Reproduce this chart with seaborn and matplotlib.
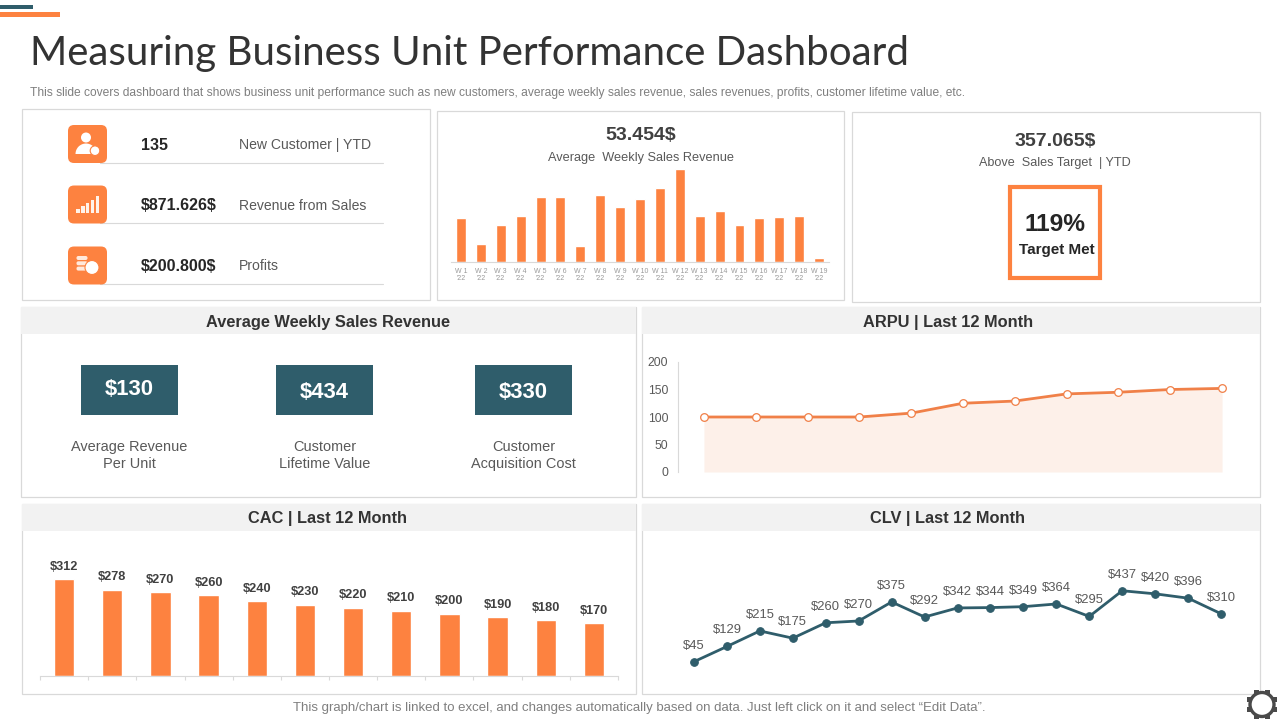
import numpy as np
import pandas as pd
import matplotlib
matplotlib.use("Agg")
import matplotlib.pyplot as plt
from matplotlib.patches import Rectangle, FancyBboxPatch, Circle, Wedge
import seaborn as sns

# ---- data ----
week_labels = [f"W {i}\n'22" for i in range(1, 20)]
week_values = [44, 18, 37, 46, 65, 65, 16, 67, 55, 63, 74, 93, 46, 51, 37, 44, 45, 46, 4]
arpu_months = list(range(1, 12))
arpu_values = [100, 100, 100, 100, 107, 125, 129, 142, 145, 150, 152]
arpu_ticks = [0, 50, 100, 150, 200]
cac_months = [f"M{i}" for i in range(1, 13)]
cac_values = [312, 278, 270, 260, 240, 230, 220, 210, 200, 190, 180, 170]
clv_points = list(range(1, 18))
clv_values = [45, 129, 215, 175, 260, 270, 375, 292, 342, 344, 349, 364, 295, 437, 420, 396, 310]

kpi_values = ["135", "$871.626$", "$200.800$"]
kpi_names = ["New Customer | YTD", "Revenue from Sales", "Profits"]
tiles = ["$130", "$434", "$330"]
tile_names = ["Average Revenue\nPer Unit", "Customer\nLifetime Value", "Customer\nAcquisition Cost"]

ORANGE = "#FD8240"
TEAL = "#2F5D6B"
BORDER = "#D9D9D9"
HEAD = "#F2F2F2"
DARK = "#404040"
GREY = "#595959"
SANS = "Liberation Sans"

sns.set_theme(style="white")
plt.rcParams["font.family"] = [SANS, "DejaVu Sans"]
plt.rcParams["axes.linewidth"] = 0.8
W, H = 1280, 720
fig = plt.figure(figsize=(12.8, 7.2), dpi=100, facecolor="white")

# overlay in pixel coordinates for the slide furniture
bg = fig.add_axes([0, 0, 1, 1], zorder=0)
bg.set_xlim(0, W); bg.set_ylim(H, 0); bg.axis("off")
top = fig.add_axes([0, 0, 1, 1], zorder=5)
top.set_xlim(0, W); top.set_ylim(H, 0); top.axis("off"); top.patch.set_alpha(0)

def px_axes(x0, y0, x1, y1):
    ax = fig.add_axes([x0 / W, 1 - y1 / H, (x1 - x0) / W, (y1 - y0) / H], zorder=2)
    ax.patch.set_alpha(0)
    return ax

def txt(x, y, s, px, color=DARK, weight="normal", ha="center", family=None, **kw):
    top.text(x, y, s, fontsize=px * 0.72, color=color, weight=weight, ha=ha, va="center",
             family=family or SANS, parse_math=False, **kw)

def box(x0, y0, x1, y1):
    bg.add_patch(Rectangle((x0, y0), x1 - x0, y1 - y0, fc="white", ec=BORDER, lw=0.9))

def panel(x0, y0, x1, y1, title, dx=0):
    box(x0, y0, x1, y1)
    bg.add_patch(Rectangle((x0, y0), x1 - x0, 27, fc=HEAD, ec="none", zorder=3))
    txt((x0 + x1) / 2 + dx, y0 + 15, title, 16.4, color="#333333", weight="bold")

# header
bg.add_patch(Rectangle((0, 5), 33, 4, fc=TEAL, ec="none"))
bg.add_patch(Rectangle((0, 12), 60, 5, fc=ORANGE, ec="none"))
top.text(30, 53, "Measuring Business Unit Performance Dashboard", fontsize=29.0, color="#333333",
         ha="left", va="center", family="Lato", weight="normal", parse_math=False)
txt(30, 93, "This slide covers dashboard that shows business unit performance such as new customers, "
    "average weekly sales revenue, sales revenues, profits, customer lifetime value, etc.",
    12, color="#7F7F7F", ha="left")

# top-row boxes
box(22, 109, 430, 300)
box(437, 111, 844, 300)
box(852, 112, 1260, 302)

# KPI list
for i, (yc, val, name) in enumerate(zip([144, 204.5, 265.5], kpi_values, kpi_names)):
    bg.add_line(plt.Line2D([100, 383], [yc + 18.5, yc + 18.5], color=BORDER, lw=0.8))
    top.add_patch(FancyBboxPatch((68, yc - 19), 39, 38, boxstyle="round,pad=0,rounding_size=6",
                                 fc=ORANGE, ec="none"))
    txt(141, yc + 1, val, 16, color="#262626", weight="bold", ha="left")
    txt(239, yc + 1, name, 14, color=GREY, ha="left")

# icon: person
yc = 144
top.add_patch(Circle((86, yc - 6.5), 5, fc="white", ec="none", zorder=6))
top.add_patch(Wedge((86, yc + 10), 10.5, 180, 360, fc="white", ec="none", zorder=6))
top.add_patch(Circle((95, yc + 6.7), 4.8, fc="white", ec=ORANGE, lw=0.8, zorder=7))
# icon: signal
yc = 204.5
for k, h in enumerate([4, 7, 10, 13, 17]):
    top.add_patch(Rectangle((76 + k * 4.9, yc + 8.5 - h), 3.6, h, fc="#FFF3EA", ec="none", zorder=6))
# icon: coins
yc = 265.5
for k in range(3):
    top.add_patch(FancyBboxPatch((76.5, yc - 9.5 + k * 5.3), 11, 4, boxstyle="round,pad=0,rounding_size=1.8",
                                 fc="#FFE9DC", ec="none", zorder=6))
top.add_patch(Circle((92, yc + 2), 7, fc="white", ec=ORANGE, lw=0.8, zorder=7))

# weekly bars
txt(640.5, 136, "53.454$", 19.5, color="#404040", weight="bold")
txt(640.5, 157.5, "Average  Weekly Sales Revenue", 12.7, color=GREY)
ax = px_axes(451, 169, 829, 262.3)
sns.barplot(x=week_labels, y=week_values, color=ORANGE, saturation=1, width=0.5, ax=ax)
ax.set_xlim(-0.5, 18.5); ax.set_ylim(0, 93)
ax.set(xlabel="", ylabel="", yticks=[])
ax.tick_params(axis="x", labelsize=5, labelcolor="#999999", length=0, pad=4)
for lab in ax.get_xticklabels():
    lab.set_linespacing(1.1)
sns.despine(ax=ax, left=True)
ax.spines["bottom"].set_color(BORDER)

# target box
txt(1055, 142, "357.065$", 19.5, color="#404040", weight="bold")
txt(1055, 163, "Above  Sales Target  | YTD", 12.6, color=GREY)
top.add_patch(Rectangle((1010, 187), 90, 91, fc="white", ec=ORANGE, lw=3))
txt(1055, 224.5, "119%", 24.5, color="#262626", weight="bold")
txt(1057, 250, "Target Met", 15.2, color="#262626", weight="bold")

# middle-left panel
panel(21, 307, 636, 497, "Average Weekly Sales Revenue")
for xc, yt, t, name in zip([129.5, 324.5, 523.5], [389.5, 392.5, 392.5], tiles, tile_names):
    top.add_patch(Rectangle((xc - 48.5, 365), 97, 50, fc=TEAL, ec="none"))
    txt(xc, yt, t, 22, color="white", weight="bold")
    txt(xc, 455.5, name, 14.5, color=GREY, linespacing=1.2)

# ARPU
panel(642, 307, 1260, 497, "ARPU | Last 12 Month", dx=-3)
ax = px_axes(678, 362, 1248, 472)
sns.lineplot(x=arpu_months, y=arpu_values, color="#F08048", lw=2.0, marker="o", ms=5.5, mfc="white",
             mec="#F08048", mew=0.9, ax=ax, zorder=3)
ax.fill_between(arpu_months, arpu_values, 0, color="#FDF0E9", lw=0, zorder=1)
ax.set_xlim(0.5, 11.5); ax.set_ylim(0, 200)
ax.set_yticks(arpu_ticks); ax.set_xticks([])
ax.set(xlabel="", ylabel="")
ax.tick_params(axis="y", labelsize=8.8, labelcolor=GREY, length=0, pad=7)
sns.despine(ax=ax, bottom=True)
ax.spines["left"].set_color(BORDER)

# CAC
panel(22, 504, 636, 694, "CAC | Last 12 Month", dx=-2)
ax = px_axes(40, 579 - 0, 618, 676.3)
sns.barplot(x=cac_months, y=cac_values, color=ORANGE, saturation=1, width=0.42, ax=ax)
ax.set_xlim(-0.5, 11.5); ax.set_ylim(0, 312)
ax.set(xlabel="", ylabel="", yticks=[])
ax.set_xticks(np.arange(-0.5, 12, 1))
ax.set_xticklabels([])
ax.tick_params(axis="x", length=3, color=BORDER, width=0.8, bottom=True)
for i, v in enumerate(cac_values):
    ax.annotate(f"${v}", (i, v), xytext=(0, 12.5), textcoords="offset pixels", ha="center", va="center",
                fontsize=9.2, color=DARK, weight="bold", annotation_clip=False, parse_math=False)
sns.despine(ax=ax, left=True)
ax.spines["bottom"].set_color(BORDER)

# CLV
panel(642, 504, 1260, 694, "CLV | Last 12 Month", dx=-4)
ax = px_axes(677.5, 570, 1237.5, 680)
sns.lineplot(x=clv_points, y=clv_values, color=TEAL, lw=2.0, marker="o", ms=5.5, mec=TEAL, ax=ax)
ax.set_xlim(0.5, 17.5)
ax.set_ylim(45 - (680 - 661.7) / 0.181, 45 + (661.7 - 570) / 0.181)
ax.axis("off")
for x, v in zip(clv_points, clv_values):
    ax.annotate(f"${v}", (x, v), xytext=(0, 16), textcoords="offset pixels", ha="center", va="center",
                fontsize=9.4, color=GREY, annotation_clip=False, parse_math=False)

# footer
txt(639, 708, "This graph/chart is linked to excel, and changes automatically based on data. "
    "Just left click on it and select \u201cEdit Data\u201d.", 13.2, color="#7F7F7F")
# gear
for a in np.arange(0, 360, 45):
    r = np.deg2rad(a + 22.5)
    top.add_patch(Rectangle((1262 + 13.5 * np.cos(r) - 2.5, 704.5 + 13.5 * np.sin(r) - 2.5), 5, 5, fc="#4A4A4A", ec="none"))
top.add_patch(Circle((1262, 704.5), 12, fc="white", ec="#4A4A4A", lw=2.4))

fig.savefig("out.png", dpi=100, facecolor="white")
